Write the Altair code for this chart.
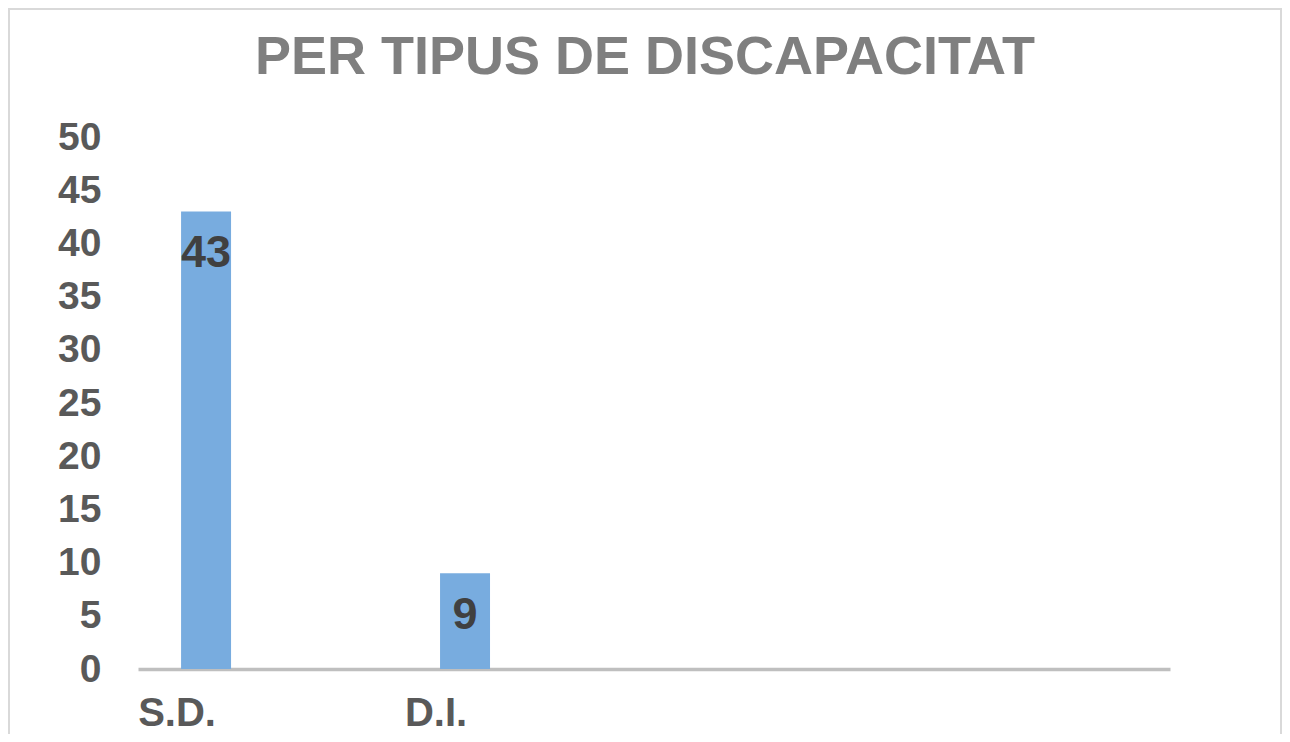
import altair as alt
import pandas as pd

categories = ["S.D.", "D.I.", " ", "  "]
bar_categories = ["S.D.", "D.I."]
values = [43, 9]
y_ticks = [0, 5, 10, 15, 20, 25, 30, 35, 40, 45, 50]
title_text = "PER TIPUS DE DISCAPACITAT"

df = pd.DataFrame({"cat": bar_categories, "val": values})
title_df = pd.DataFrame({"t": [title_text]})

W, H = 1032, 532

x_enc = alt.X(
    "cat:N",
    sort=categories,
    scale=alt.Scale(domain=categories, paddingInner=0.807, paddingOuter=0.396, align=0.21),
    axis=alt.Axis(
        title=None, labelAngle=0, ticks=False, domain=True,
        domainColor="#bfbfbf", domainWidth=3.5,
        labelFont="Liberation Sans", labelFontWeight="bold", labelFontSize=40,
        labelColor="#595959", labelPadding=56, labelOffset=-29,
        labelBaseline="alphabetic", grid=False,
    ),
)
y_enc = alt.Y(
    "val:Q",
    scale=alt.Scale(domain=[0, 50], nice=False, zero=True),
    axis=alt.Axis(
        title=None, values=y_ticks, ticks=False, domain=False, grid=False,
        labelFont="Liberation Sans", labelFontWeight="bold", labelFontSize=39,
        labelColor="#595959", labelPadding=37, labelBaseline="middle",
    ),
)

bars = alt.Chart(df).mark_bar(color="#78acdf").encode(x=x_enc, y=y_enc)

labels = alt.Chart(df).mark_text(
    baseline="top", dy=20, font="Liberation Sans", fontWeight="bold",
    fontSize=45, color="#404040",
).encode(x=alt.X("cat:N", sort=categories), y="val:Q", text="val:Q")

title = alt.Chart(title_df).mark_text(
    font="Liberation Sans", fontWeight="bold", fontSize=54, color="#7f7f7f",
    align="center", baseline="alphabetic",
).encode(x=alt.value(507), y=alt.value(-63), text="t:N")

border = alt.Chart(df).mark_rect(
    fill=None, stroke="#d9d9d9", strokeWidth=2, clip=False
).encode(
    x=alt.value(-129), x2=alt.value(1143), y=alt.value(-128), y2=alt.value(640)
)

chart = alt.layer(border, bars, labels, title).properties(
    width=W, height=H,
    padding={"left": 130, "top": 129, "right": 112, "bottom": 65},
    autosize=alt.AutoSizeParams(type="none"),
).configure_view(stroke=None)

chart.save("out.html", embed_options={"renderer": "svg", "actions": False})
